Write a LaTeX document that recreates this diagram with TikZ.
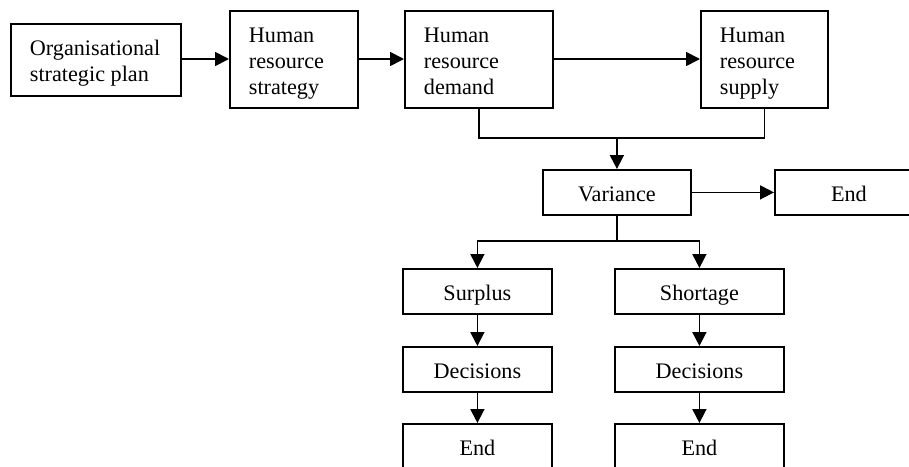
\documentclass[tikz,border=0pt]{standalone}
\usepackage{fontspec}
\setmainfont{Liberation Serif}
\usetikzlibrary{arrows.meta}
\newcommand\mylines[2]{\makebox[#1][l]{\begin{tabular}[t]{@{}l@{}}#2\end{tabular}}}
\tikzset{
  boxbase/.style={draw, line width=1.8pt, rectangle, inner ysep=0pt, anchor=north west,
    font=\fontsize{22.2pt}{26pt}\selectfont, text height=31.5pt},
  lbox/.style={boxbase, inner xsep=19pt},
  cbox/.style={boxbase, inner xsep=0pt, text depth=13.5pt},
  conn/.style={line width=1.8pt},
  arr/.style={conn, -{Triangle[length=14pt, width=14pt]}}
}
\begin{document}
\begin{tikzpicture}[x=1pt,y=-1pt]
\useasboundingbox (0,0) rectangle (909,466);
\clip (0,0) rectangle (909,466);
% top row
\node[lbox, text depth=40.5pt] (org) at (10,23) {\mylines{132pt}{Organisational\\strategic plan}};
\node[lbox, text depth=65.5pt] (hrs) at (229,10) {\mylines{90pt}{Human\\resource\\strategy}};
\node[lbox, text depth=65.5pt] (hrd) at (404,10) {\mylines{110pt}{Human\\resource\\demand}};
\node[lbox, text depth=65.5pt] (sup) at (700,10) {\mylines{89pt}{Human\\resource\\supply}};
% variance row
\node[cbox, minimum width=148pt] (var) at (542,169) {Variance};
\node[cbox, minimum width=148pt] (endr) at (774,169) {End};
% branches
\node[cbox, minimum width=149pt] (surp) at (402,268) {Surplus};
\node[cbox, minimum width=169pt] (short) at (614,268) {Shortage};
\node[cbox, minimum width=149pt] (dec1) at (402,346) {Decisions};
\node[cbox, minimum width=169pt] (dec2) at (614,346) {Decisions};
\node[cbox, minimum width=149pt] (end1) at (402,423) {End};
\node[cbox, minimum width=169pt] (end2) at (614,423) {End};
% coordinates
\coordinate (merge) at (var.north |- 0,138);
\coordinate (split) at (var.south |- 0,241);
\coordinate (rowy) at (0,59);
% connectors
\draw[arr] (org.east |- rowy) -- (hrs.west |- rowy);
\draw[arr] (hrs.east |- rowy) -- (hrd.west |- rowy);
\draw[arr] (hrd.east |- rowy) -- (sup.west |- rowy);
\draw[conn] (hrd.south) |- (merge) -| (sup.south);
\draw[arr] (merge) -- (var.north);
\draw[arr] (var.east) -- (endr.west);
\draw[conn] (var.south) -- (split);
\draw[arr] (split) -| (surp.north);
\draw[arr] (split) -| (short.north);
\draw[arr] (surp.south) -- (dec1.north);
\draw[arr] (short.south) -- (dec2.north);
\draw[arr] (dec1.south) -- (end1.north);
\draw[arr] (dec2.south) -- (end2.north);
\end{tikzpicture}
\end{document}
